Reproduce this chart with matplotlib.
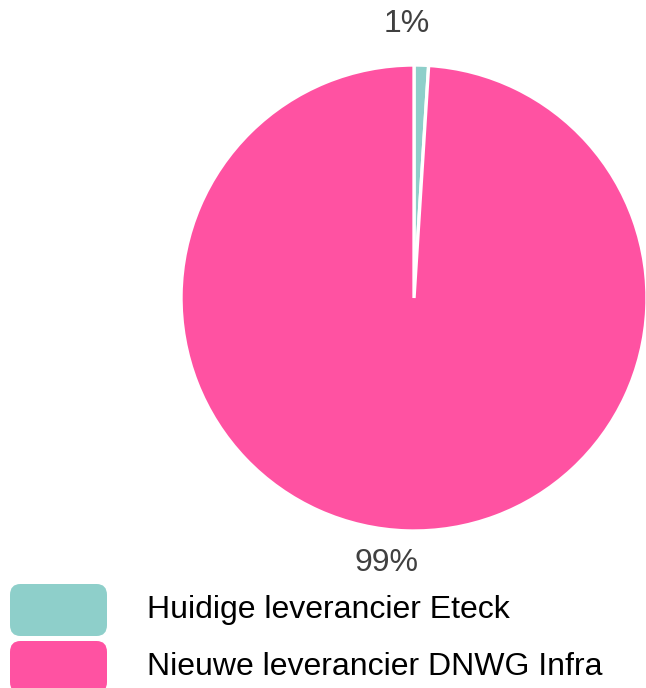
import matplotlib.pyplot as plt
from matplotlib.patches import FancyBboxPatch

plt.rcParams['font.family'] = ['Liberation Sans', 'DejaVu Sans']

labels = ['Huidige leverancier Eteck', 'Nieuwe leverancier DNWG Infra']
values = [1.0, 99.0]
pct_text = ['1%', '99%']
colors = ['#8ECFCA', '#FF52A2']

fig = plt.figure(figsize=(6.46, 6.88), dpi=100)
ax = fig.add_axes([0.2802, 0.2282, 0.7214, 0.6773])
wedges, _ = ax.pie(values, colors=colors, startangle=90, counterclock=False,
                   wedgeprops=dict(edgecolor='white', linewidth=2.4))
ax.set_xlim(-1, 1)
ax.set_ylim(-1, 1)
ax.set_aspect('equal')
ax.axis('off')
for w in wedges:
    w.set_clip_on(False)

# percentage labels outside the pie
ax.text(-0.03, 1.175, pct_text[0], ha='center', va='center', fontsize=23, color='#404040', clip_on=False)
ax.text(-0.116, -1.137, pct_text[1], ha='center', va='center', fontsize=23, color='#404040', clip_on=False)

# legend with rounded swatches
W, H = 646, 688
for i, (lab, col) in enumerate(zip(labels, colors)):
    top = 584 + i * 57
    box = FancyBboxPatch((10 / W, 1 - (top + 52) / H), 97 / W, 52 / H,
                         boxstyle='round,pad=0,rounding_size=0.016',
                         transform=fig.transFigure, facecolor=col, edgecolor='none')
    fig.patches.append(box)
    fig.text(147 / W, 1 - (top + 26) / H, lab, ha='left', va='center', fontsize=23, color='#000000')

plt.savefig('out.png', dpi=100)
